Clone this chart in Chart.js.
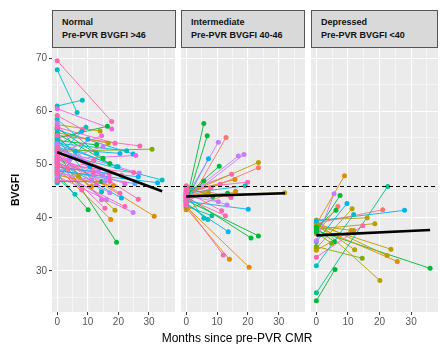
<!DOCTYPE html>
<html><head><meta charset="utf-8">
<script src="https://cdn.jsdelivr.net/npm/chart.js@4.4.1/dist/chart.umd.min.js"></script>
<style>
body{margin:0;width:440px;height:344px;background:#fff;position:relative;overflow:hidden;font-family:"Liberation Sans",Arial,sans-serif}
canvas{position:absolute}
.strip{position:absolute;top:10px;height:38px;background:#D9D9D9;border:1px solid #555;box-sizing:border-box;font-weight:bold;font-size:9px;line-height:13px;padding:5px 0 0 9px;color:#111;white-space:nowrap}
.ytitle{position:absolute;left:15px;top:190px;transform:translate(-50%,-50%) rotate(-90deg);font-weight:bold;font-size:10.5px;color:#000}
.xtitle{position:absolute;left:237px;top:338px;transform:translate(-50%,-50%);font-size:12px;color:#000;white-space:nowrap}
</style></head>
<body>
<canvas id="c1" width="179" height="286" style="left:0;top:44px"></canvas>
<canvas id="c2" width="133" height="286" style="left:176px;top:44px"></canvas>
<canvas id="c3" width="137" height="286" style="left:305px;top:44px"></canvas>
<div class="strip" style="left:52px;width:124px"><div>Normal</div><div>Pre-PVR BVGFI &gt;46</div></div>
<div class="strip" style="left:181px;width:124px"><div>Intermediate</div><div>Pre-PVR BVGFI 40-46</div></div>
<div class="strip" style="left:311px;width:127px"><div>Depressed</div><div>Pre-PVR BVGFI &lt;40</div></div>
<div class="ytitle">BVGFI</div>
<div class="xtitle">Months since pre-PVR CMR</div>
<script>
// ---- data ----
const yTicks = [30, 40, 50, 60, 70];
const yMinor = [25, 35, 45, 55, 65];
const xTicks = [0, 10, 20, 30];
const xMinor = [5, 15, 25, 35];
const cutoff = 46;

const normalStart = [69.5,67.8,61.0,60.5,55.0,57.5,53.5,59.2,52.0,51.5,
  56.0,57.0,54.5,50.5,55.5,52.5,54.0,56.5,51.0,53.0,
  58.5,55.8,53.8,50.0,52.8,49.5,52.2,48.8,51.2,49.0,
  47.0,46.8,48.5,52.0,50.2,48.0,50.8,47.5,54.8,49.8,
  51.8,50.6,52.6,49.2,53.2,48.2,50.4,51.4,48.6,47.8,
  49.4,51.6,52.4,55.2,56.8,54.2,51.0,53.6,49.6,55.4,
  50.9,57.8,46.6,47.2,53.9,48.4,50.0,52.9,48.9,53.3];
const normalEndX = [17.8,6.5,8.2,17.8,16.4,14.0,9.4,8.3,14.5,8.0,
  16.7,18.9,12.9,15.0,27.0,31.0,22.7,24.8,25.7,20.5,
  12.9,17.2,19.9,25.0,26.8,26.5,34.3,32.8,22.1,25.4,
  17.2,14.5,11.2,12.9,11.2,18.3,8.0,5.8,14.5,17.2,
  20.5,21.0,14.5,16.1,26.5,10.1,15.6,18.9,22.1,24.8,
  17.5,31.7,19.4,10.7,15.0,19.4,15.6,15.0,17.0,11.8,
  13.5,9.0,6.0,10.0,4.0,12.0,17.0,21.0,3.5,7.0];
const normalEndY = [58.1,59.8,62.1,56.7,57.2,56.3,57.0,56.6,55.4,56.2,
  54.0,54.0,53.7,53.4,53.5,52.9,52.6,52.0,51.7,52.1,
  52.1,50.2,49.6,48.5,48.4,47.7,47.1,46.6,46.4,46.4,
  46.8,46.8,47.1,46.2,45.9,46.0,45.2,44.4,44.9,44.7,
  44.6,43.7,43.4,43.4,43.5,41.5,41.8,41.4,42.1,41.0,
  39.7,40.3,35.4,49.6,51.2,49.6,46.8,47.9,48.2,48.5,
  48.8,50.5,52.5,54.8,51.0,50.8,47.5,48.0,49.3,47.8];
const normalFitX = [0, 34.3];
const normalFitY = [52.3, 45.0];

const interStart = [43.0,42.5,43.8,42.0,43.2,44.2,44.0,43.5,44.5,43.6,
  45.0,44.8,45.5,44.6,43.4,44.3,45.2,43.9,45.8,46.0,
  44.1,45.3,43.1,44.9,43.7,44.4,42.8,42.2,42.6,44.0,
  43.3,42.3,41.8,42.1,42.9,41.5,44.7];
const interEndX = [5.7,6.8,10.4,12.9,7.2,10.7,16.9,18.7,23.4,23.4,
  14.7,15.8,19.9,19.1,5.7,31.9,7.2,13.4,8.6,14.5,
  10.4,13.2,20.1,11.5,12.7,5.7,7.0,8.3,13.6,21.0,
  23.4,12.0,14.0,20.4,8.0,16.0,11.0];
const interEndY = [57.7,55.4,54.2,55.1,51.1,49.7,51.6,51.9,50.4,49.4,
  48.2,47.2,46.7,46.0,46.9,44.7,44.7,44.6,44.0,43.8,
  43.0,42.4,41.6,41.3,40.4,39.9,39.7,40.4,37.4,36.2,
  36.6,33.0,32.2,30.7,45.6,45.0,46.3];
const interFitX = [0, 32];
const interFitY = [44.0, 44.6];

const depStart = [38.8,35.7,37.4,25.9,35.5,37.0,34.3,38.2,39.0,39.4,
  31.0,39.6,37.9,32.6,33.9,38.5,38.0,37.2,39.0,38.6,
  39.2,38.3,37.6,34.6,24.4,39.0];
const depEndX = [8.9,5.6,7.5,22.6,9.7,6.8,11.3,6.2,21.0,27.9,
  11.8,16.1,18.5,14.7,11.0,11.8,5.7,4.8,12.1,23.6,
  22.4,25.6,36.0,14.5,5.9,20.1];
const depEndY = [47.9,44.5,44.2,45.9,42.7,42.1,41.7,41.4,41.5,41.4,
  40.6,40.0,38.9,38.5,37.6,37.6,35.5,35.2,34.0,34.1,
  32.9,31.8,30.5,32.4,30.3,28.2];
const depFitX = [0, 36];
const depFitY = [36.7, 37.7];

// ---- styles ----
const palette = ['#F8766D','#E08B00','#B79F00','#7CAE00','#00BA38','#00C08B','#00BFC4','#00B4F0','#619CFF','#C77CFF','#F564E3','#FF64B0'];
const normalHue = [11,6,6,10,4,2,6,11,10,7, 2,11,4,9,11,3,6,7,10,7, 6,4,7,11,9,7,6,7,10,8,
  11,4,9,10,1,1,11,6,6,9, 11,7,10,9,11,4,11,2,11,9, 1,1,4,7,4,6,9,9,11,11, 9,9,6,7,9,11,10,11,11,2];
const interHue = [4,4,9,0,7,4,9,9,2,0, 11,1,11,6,4,2,2,4,4,11, 9,9,7,11,11,6,6,5,7,4, 4,11,1,1,11,1,11];
const depHue = [1,9,4,5,7,0,2,4,0,7, 6,2,2,11,1,2,4,3,2,2, 2,1,4,3,4,2];

const FONT = '"Liberation Sans", Arial, sans-serif';

const deco = {
  id: 'deco',
  beforeDraw(chart) {
    const {ctx, chartArea: a} = chart;
    ctx.save();
    ctx.fillStyle = '#EBEBEB';
    ctx.fillRect(a.left, a.top, a.right - a.left, a.bottom - a.top);
    ctx.restore();
  },
  afterDatasetsDraw(chart, args, opts) {
    const {ctx, chartArea: a} = chart;
    const xs = chart.scales.x, ys = chart.scales.y;
    // trend line through the chart's own scales
    ctx.save();
    ctx.beginPath();
    ctx.rect(a.left, a.top, a.right - a.left, a.bottom - a.top);
    ctx.clip();
    ctx.setLineDash([]);
    ctx.strokeStyle = '#000';
    ctx.lineWidth = 2.6;
    ctx.lineCap = 'butt';
    ctx.beginPath();
    ctx.moveTo(xs.getPixelForValue(opts.fitX[0]), ys.getPixelForValue(opts.fitY[0]));
    ctx.lineTo(xs.getPixelForValue(opts.fitX[1]), ys.getPixelForValue(opts.fitY[1]));
    ctx.stroke();
    ctx.restore();
    // dashed cutoff line
    const y = ys.getPixelForValue(cutoff);
    const x0 = opts.fromCanvas ? 0 : a.left;
    const x1 = opts.toValue != null ? xs.getPixelForValue(opts.toValue) : chart.width;
    ctx.save();
    ctx.strokeStyle = '#000';
    ctx.lineWidth = 1;
    ctx.setLineDash([4, 3]);
    ctx.beginPath();
    ctx.moveTo(x0, Math.round(y) + 0.5);
    ctx.lineTo(x1, Math.round(y) + 0.5);
    ctx.stroke();
    ctx.restore();
  }
};

function buildPanel(id, start, endX, endY, hue, fitX, fitY, o) {
  const datasets = [];
  start.forEach((s, i) => {
    datasets.push({
      label: 'p' + i,
      data: [{x: 0, y: s}, {x: endX[i], y: endY[i]}],
      showLine: true, borderColor: palette[hue[i]], backgroundColor: palette[hue[i]],
      borderWidth: 0.9, pointRadius: 0, order: 3
    });
  });
  const pts = [], cols = [];
  start.forEach((s, i) => { pts.push({x: endX[i], y: endY[i]}); cols.push(palette[hue[i]]); });
  const idx = start.map((s, i) => i).sort((a, b) => hue[a] - hue[b]);
  idx.forEach(i => { pts.push({x: 0, y: start[i]}); cols.push(palette[hue[i]]); });
  datasets.push({
    label: 'points',
    data: pts, showLine: false, pointRadius: 2.5, pointHoverRadius: 4, pointBorderWidth: 0,
    pointBackgroundColor: cols, pointBorderColor: cols, borderColor: '#888', backgroundColor: '#888', order: 2
  });
  const major = v => v % 10 === 0;
  new Chart(document.getElementById(id), {
    type: 'scatter',
    data: {datasets},
    options: {
      responsive: false, animation: false, events: [],
      layout: {padding: 0},
      plugins: {legend: {display: false}, tooltip: {enabled: false}, colors: {enabled: false},
        deco: {fromCanvas: o.fromCanvas, toValue: o.toValue, fitX: fitX, fitY: fitY}},
      scales: {
        x: {
          type: 'linear', min: -1.7, max: 38.5,
          afterBuildTicks: s => { s.ticks = xTicks.concat(xMinor).sort((a, b) => a - b).map(v => ({value: v})); },
          afterFit: s => { s.height = 18; s.paddingLeft = 0; s.paddingRight = 0; },
          border: {display: false},
          grid: {color: '#fff', lineWidth: c => major(c.tick.value) ? 1.1 : 0.5,
                 drawTicks: true, tickLength: 3, tickWidth: 1,
                 tickColor: c => major(c.tick.value) ? '#333' : 'rgba(0,0,0,0)'},
          ticks: {padding: 1, color: '#555', font: {size: 10, family: FONT}, maxRotation: 0, autoSkip: false,
                  callback: v => xTicks.includes(v) ? String(v) : ''}
        },
        y: {
          type: 'linear', min: 22.3, max: 71.9,
          afterBuildTicks: s => { s.ticks = yTicks.concat(yMinor).sort((a, b) => a - b).map(v => ({value: v})); },
          afterFit: s => { s.width = o.yWidth; s.paddingTop = 0; s.paddingBottom = 0; },
          border: {display: false},
          grid: {color: '#fff', lineWidth: c => major(c.tick.value) ? 1.1 : 0.5,
                 drawTicks: o.showY, tickLength: 3, tickWidth: 1,
                 tickColor: c => major(c.tick.value) ? '#333' : 'rgba(0,0,0,0)'},
          ticks: {display: o.showY, padding: 2, color: '#555', font: {size: 10, family: FONT}, autoSkip: false,
                  callback: v => yTicks.includes(v) ? String(v) : ''}
        }
      }
    },
    plugins: [deco]
  });
}

buildPanel('c1', normalStart, normalEndX, normalEndY, normalHue, normalFitX, normalFitY,
  {yWidth: 52, showY: true, fromCanvas: false});
buildPanel('c2', interStart, interEndX, interEndY, interHue, interFitX, interFitY,
  {yWidth: 5, showY: false, fromCanvas: true});
buildPanel('c3', depStart, depEndX, depEndY, depHue, depFitX, depFitY,
  {yWidth: 6, showY: false, fromCanvas: true, toValue: 38});
</script>
</body></html>
